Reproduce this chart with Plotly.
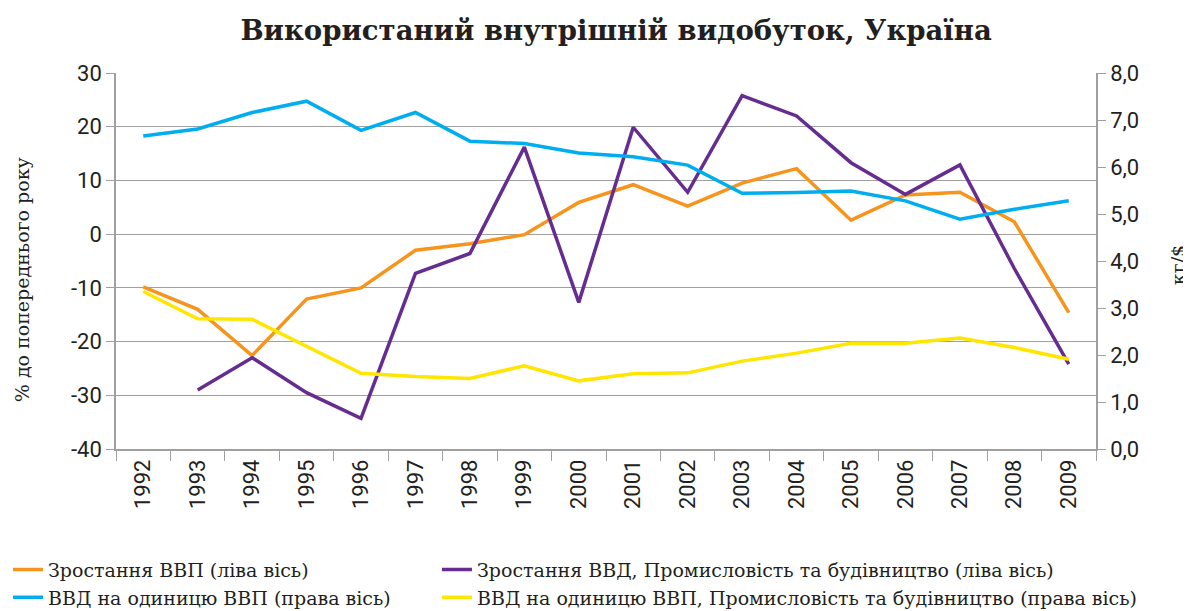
import plotly.graph_objects as go

years = [str(y) for y in range(1992, 2010)]
gdp_growth = [-9.8, -14.0, -22.6, -12.1, -10.0, -3.0, -1.8, -0.1, 5.9, 9.2, 5.2, 9.5, 12.2, 2.6, 7.3, 7.8, 2.3, -14.6]
dmc_ind_growth = [None, -29.0, -23.0, -29.5, -34.3, -7.3, -3.6, 16.2, -12.7, 19.9, 7.8, 25.8, 22.0, 13.3, 7.4, 12.9, -6.4, -24.2]
dmc_per_gdp = [6.66, 6.81, 7.16, 7.40, 6.78, 7.16, 6.55, 6.50, 6.30, 6.22, 6.04, 5.44, 5.46, 5.49, 5.28, 4.89, 5.10, 5.28]
dmc_ind_per_gdp = [3.35, 2.77, 2.76, 2.19, 1.61, 1.54, 1.50, 1.77, 1.45, 1.60, 1.62, 1.87, 2.04, 2.25, 2.25, 2.36, 2.16, 1.91]

left_ticks = [-40, -30, -20, -10, 0, 10, 20, 30]
left_labels = ["-40", "-30", "-20", "-10", "0", "10", "20", "30"]

names = [
    "Зростання ВВП (ліва вісь)",
    "Зростання ВВД, Промисловість та будівництво (ліва вісь)",
    "ВВД на одиницю ВВП (права вісь)",
    "ВВД на одиницю ВВП, Промисловість та будівництво (права вісь)",
]
colors = ["#F7941D", "#662D91", "#00AEEF", "#FFE600"]

fig = go.Figure()
fig.add_trace(go.Scatter(x=years, y=gdp_growth, name=names[0], mode="lines",
                         line=dict(color=colors[0], width=3.5), yaxis="y", legend="legend"))
fig.add_trace(go.Scatter(x=years, y=dmc_ind_growth, name=names[1], mode="lines",
                         line=dict(color=colors[1], width=3.5), yaxis="y", legend="legend2"))
fig.add_trace(go.Scatter(x=years, y=dmc_per_gdp, name=names[2], mode="lines",
                         line=dict(color=colors[2], width=3.5), yaxis="y2", legend="legend"))
fig.add_trace(go.Scatter(x=years, y=dmc_ind_per_gdp, name=names[3], mode="lines",
                         line=dict(color=colors[3], width=3.5), yaxis="y2", legend="legend2"))

sans = "Liberation Sans Narrow, Roboto, Arial"
tickfont = dict(family=sans, size=22, color="#231f20")
serif = "DejaVu Serif, Liberation Serif, serif"
legfont = dict(family=serif, size=19, color="#231f20")

fig.update_layout(
    width=1183, height=603,
    margin=dict(l=108, r=95, t=65, b=162, autoexpand=False),
    paper_bgcolor="white", plot_bgcolor="white",
    separators=", ",
    title=dict(text="<b>Використаний внутрішній видобуток, Україна</b>",
               x=0.514, xanchor="center", xref="container", y=0.9635, yanchor="middle",
               font=dict(family=serif, size=27.5, color="#231f20")),
    xaxis=dict(type="category", tickangle=-90, tickfont=dict(family=sans, size=22, color="#231f20"),
               showline=True, linecolor="#a0a0a0", linewidth=1.5, automargin=False,
               ticks="outside", tickson="boundaries", ticklen=10, tickcolor="#a0a0a0",
               showgrid=False, range=[-0.5, 17.5]),
    yaxis=dict(range=[-40, 30], tickvals=left_ticks, ticktext=left_labels, tickfont=tickfont, automargin=False,
               showline=True, linecolor="#a0a0a0", linewidth=1.5,
               ticks="outside", ticklen=8, tickcolor="#a0a0a0",
               showgrid=True, gridcolor="#a0a0a0", gridwidth=1.2, zeroline=False),
    yaxis2=dict(range=[0, 8], dtick=1, tickformat=".1f", overlaying="y", side="right",
                tickfont=tickfont, showline=True, linecolor="#a0a0a0", linewidth=1.5, automargin=False,
                ticks="outside", ticklen=8, tickcolor="#a0a0a0", showgrid=False, zeroline=False),
    legend=dict(orientation="v", xref="container", x=0.0, xanchor="left",
                yref="container", y=0.1, yanchor="top", font=legfont, tracegroupgap=0),
    legend2=dict(orientation="v", xref="container", x=0.3626, xanchor="left",
                 yref="container", y=0.1, yanchor="top", font=legfont, tracegroupgap=0),
    showlegend=True,
    annotations=[
        dict(text="% до попереднього року", textangle=-90, xref="paper", yref="paper",
             x=-0.0959, y=0.449, xanchor="center", yanchor="middle", showarrow=False,
             font=dict(family=serif, size=19, color="#231f20")),
        dict(text="кг/$", textangle=-90, xref="paper", yref="paper",
             x=1.0837, y=0.489, xanchor="center", yanchor="middle", showarrow=False,
             font=dict(family=serif, size=19, color="#231f20")),
    ],
)

fig.write_html("out.html")
